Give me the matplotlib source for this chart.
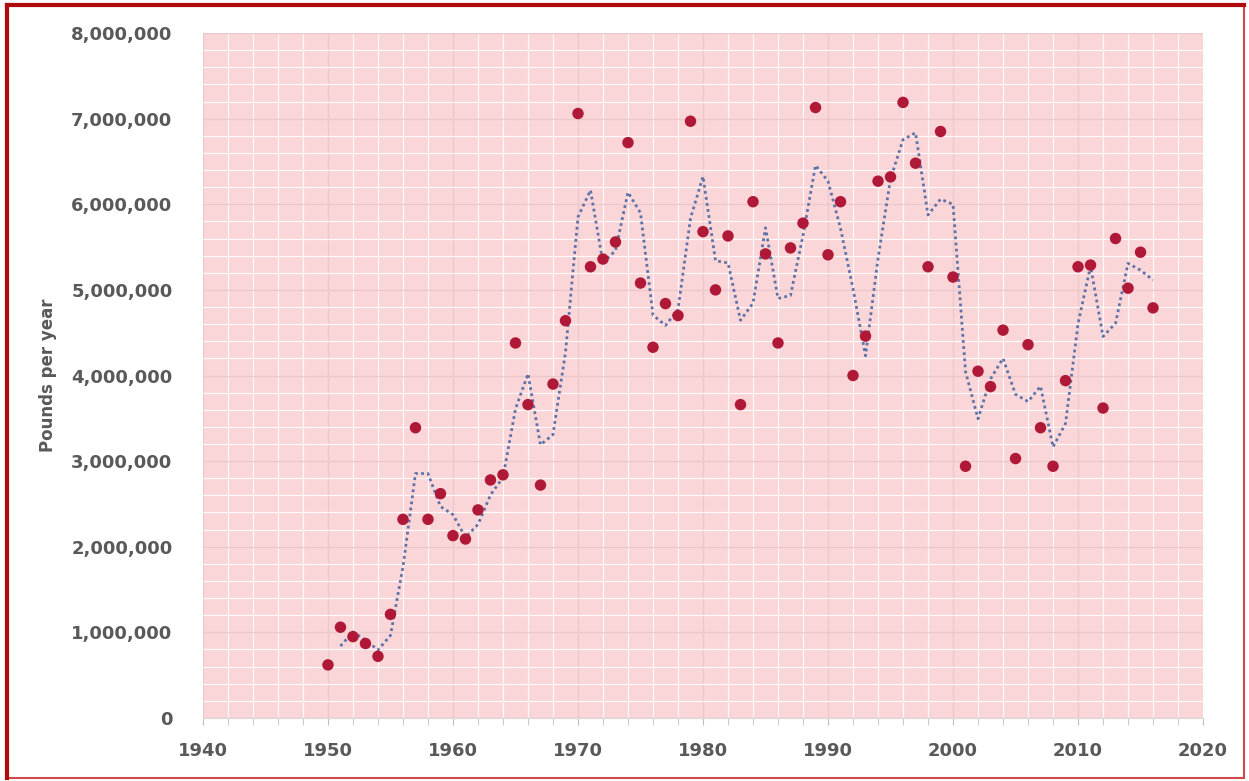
import matplotlib.pyplot as plt
import numpy as np
from matplotlib.ticker import FuncFormatter, MultipleLocator
from matplotlib.patches import Rectangle

# yearly catch, pounds per year
years = list(range(1950, 2017))
pounds = [
    620000, 1060000, 950000, 870000, 720000, 1210000, 2320000, 3390000, 2320000, 2620000,
    2130000, 2090000, 2430000, 2780000, 2840000, 4380000, 3660000, 2720000, 3900000, 4640000,
    7060000, 5270000, 5360000, 5560000, 6720000, 5080000, 4330000, 4840000, 4700000, 6970000,
    5680000, 5000000, 5630000, 3660000, 6030000, 5420000, 4380000, 5490000, 5780000, 7130000,
    5410000, 6030000, 4000000, 4460000, 6270000, 6320000, 7190000, 6480000, 5270000, 6850000,
    5150000, 2940000, 4050000, 3870000, 4530000, 3030000, 4360000, 3390000, 2940000, 3940000,
    5270000, 5290000, 3620000, 5600000, 5020000, 5440000, 4790000,
]

x = np.array(years)
y = np.array(pounds, dtype=float)
# 2-period moving average trendline
ma = (y[1:] + y[:-1]) / 2

fig = plt.figure(figsize=(12.49, 7.81), dpi=100)
ax = fig.add_axes([0.1625, 0.0807, 0.8007, 0.877])
ax.set_facecolor('#fbd6d8')

ax.plot(x[1:], ma, linestyle=(0, (1, 1.2)), color='#5f72a8', linewidth=2.0, zorder=3)
ax.scatter(x, y, s=68, color='#b01838', edgecolors='none', zorder=4)

ax.set_xlim(1940, 2020)
ax.set_ylim(0, 8000000)
ax.xaxis.set_major_locator(MultipleLocator(10))
ax.xaxis.set_minor_locator(MultipleLocator(2))
ax.yaxis.set_major_locator(MultipleLocator(1000000))
ax.yaxis.set_minor_locator(MultipleLocator(200000))
ax.yaxis.set_major_formatter(FuncFormatter(lambda v, p: f'{int(v):,}'))

ax.grid(which='major', color='#ebc8cb', linewidth=1.0, zorder=0)
ax.grid(which='minor', color='white', linewidth=0.8, alpha=0.9, zorder=0)
ax.set_axisbelow(True)

for s in ['top', 'right', 'left']:
    ax.spines[s].set_visible(False)
ax.spines['bottom'].set_color('#d9d9d9')

ax.tick_params(axis='x', which='both', direction='out', color='#bfbfbf', length=5,
               labelsize=13, labelcolor='#595959', pad=12)
ax.tick_params(axis='y', which='both', length=0, labelsize=13, labelcolor='#595959', pad=22)
for lab in ax.get_xticklabels() + ax.get_yticklabels():
    lab.set_fontweight('bold')

ax.set_ylabel('Pounds per year', fontsize=12, color='#595959', fontweight='bold', labelpad=10)

# chart border
fig.patches.append(Rectangle((0.006, 0.004), 0.99, 0.99, transform=fig.transFigure,
                             fill=False, edgecolor='#d0484c', linewidth=1.5))
fig.add_artist(plt.Line2D([0.006, 0.996], [0.993, 0.993], transform=fig.transFigure,
                          color='#b00c0c', linewidth=3.0))
fig.add_artist(plt.Line2D([0.006, 0.006], [0.004, 0.993], transform=fig.transFigure,
                          color='#b00c0c', linewidth=3.0))

fig.savefig('out.png', dpi=100)
